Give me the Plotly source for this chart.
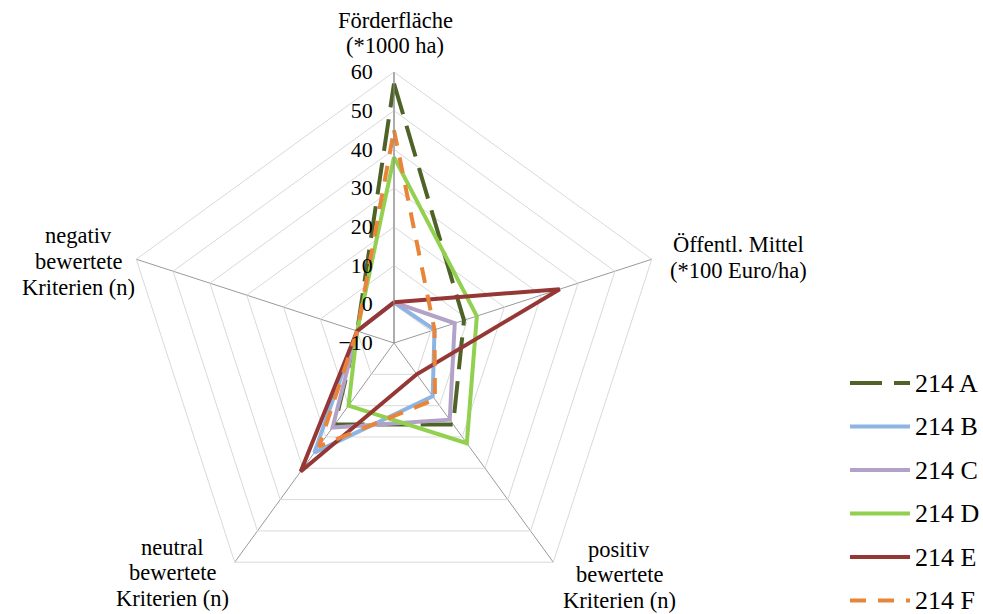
import plotly.graph_objects as go

# Criteria shown on the five spokes (clockwise from the top)
categories = [
    "Förderfläche<br>(*1000 ha)",
    "Öffentl. Mittel<br>(*100 Euro/ha)",
    "positiv<br>bewertete<br>Kriterien (n)",
    "neutral<br>bewertete<br>Kriterien (n)",
    "negativ<br>bewertete<br>Kriterien (n)",
]

series_names = ["214 A", "214 B", "214 C", "214 D", "214 E", "214 F"]

values_214A = [57, 9, 16, 16, 0]
values_214B = [0.5, 1, 7, 25, 0]
values_214C = [0.5, 6.5, 14.5, 17, 0]
values_214D = [38, 12.5, 22, 10, 0]
values_214E = [0.5, 35, 0, 31, 0]
values_214F = [45, 1, 8, 23, 0]

radial_ticks = [-10, 0, 10, 20, 30, 40, 50, 60]

series_values = [values_214A, values_214B, values_214C,
                 values_214D, values_214E, values_214F]
colors = ["#4F6228", "#8DB4E2", "#B3A2C7", "#92D050", "#953735", "#E8853A"]
dashes = ["32px,12px", "solid", "solid", "solid", "solid", "16px,12px"]

FONT = "Liberation Serif"
W, H = 983, 614

fig = go.Figure()
for name, vals, col, dash in zip(series_names, series_values, colors, dashes):
    fig.add_trace(go.Scatterpolar(
        r=vals + vals[:1],
        theta=categories + categories[:1],
        mode="lines",
        name=name,
        line=dict(color=col, width=4, dash=dash),
        showlegend=False,
    ))

# polar area: centre (394, 343) px, outer radius 271 px
cx, cy, rad = 394, 343, 271
fig.update_layout(
    width=W, height=H,
    margin=dict(l=0, r=0, t=0, b=0),
    paper_bgcolor="white",
    plot_bgcolor="white",
    font=dict(family=FONT, size=22, color="#000000"),
    polar=dict(
        domain=dict(x=[(cx - rad) / W, (cx + rad) / W],
                    y=[1 - (cy + rad) / H, 1 - (cy - rad) / H]),
        bgcolor="white",
        gridshape="linear",
        radialaxis=dict(
            range=[radial_ticks[0], radial_ticks[-1]],
            tickvals=radial_ticks,
            angle=90,
            side="counterclockwise",
            showline=True, linecolor="#8C8C8C", linewidth=1,
            gridcolor="#D9D9D9", gridwidth=1,
            ticks="outside", ticklen=13, tickcolor="rgba(0,0,0,0)",
            tickfont=dict(family=FONT, size=22, color="#000000"),
            tickangle=90,
        ),
        angularaxis=dict(
            rotation=90, direction="clockwise",
            showticklabels=False, ticks="",
            gridcolor="#9A9A9A", gridwidth=1,
            showline=True, linecolor="#D9D9D9", linewidth=1,
        ),
    ),
)

# axis captions: centre x and first-line centre y (px), line step 25.5 px
label_pos = [(395, 20), (738, 245), (619, 549), (172, 547), (78, 236)]
for text, (x, y) in zip(categories, label_pos):
    for k, line in enumerate(text.split("<br>")):
        fig.add_annotation(
            x=x / W, y=1 - (y + 25.5 * k) / H, xref="paper", yref="paper",
            text=line, showarrow=False, xanchor="center", yanchor="middle",
            font=dict(family=FONT, size=22.5, color="#000000"),
        )

# legend drawn at the right
leg_y0, leg_dy = 383, 43.5
for i, (name, col, dash) in enumerate(zip(series_names, colors, dashes)):
    y = 1 - (leg_y0 + i * leg_dy) / H
    fig.add_shape(
        type="line", xref="paper", yref="paper",
        x0=850 / W, x1=910 / W, y0=y, y1=y,
        line=dict(color=col, width=4, dash=dash),
    )
    fig.add_annotation(
        x=913 / W, y=y, xref="paper", yref="paper",
        text=name, showarrow=False, xanchor="left", yanchor="middle",
        font=dict(family=FONT, size=26, color="#000000"),
    )

fig.write_html("out.html")
